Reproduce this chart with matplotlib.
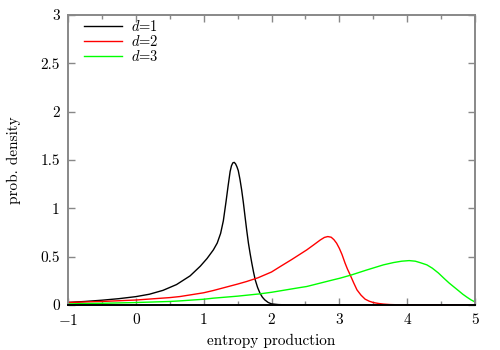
import matplotlib
matplotlib.use("Agg")
import matplotlib.pyplot as plt

plt.rcParams['font.family'] = ['cmr10', 'DejaVu Serif']
plt.rcParams['mathtext.fontset'] = 'cm'
plt.rcParams['axes.formatter.use_mathtext'] = True
plt.rcParams['font.size'] = 11

# d=1
x1 = [-1, -0.75, -0.5, -0.25, 0, 0.2, 0.4, 0.6, 0.8, 0.95, 1.05, 1.143, 1.20, 1.25,
      1.29, 1.33, 1.36, 1.39, 1.41, 1.43, 1.45, 1.47, 1.49, 1.51, 1.535, 1.56, 1.585,
      1.61, 1.635, 1.66, 1.685, 1.71, 1.735, 1.76, 1.795, 1.83, 1.865, 1.90, 1.95,
      2.0, 2.1, 2.2, 5.0]
y1 = [0.025, 0.035, 0.048, 0.064, 0.085, 0.11, 0.15, 0.21, 0.30, 0.40, 0.48, 0.569,
      0.64, 0.74, 0.87, 1.07, 1.23, 1.38, 1.44, 1.47, 1.475, 1.46, 1.43, 1.39, 1.30,
      1.19, 1.06, 0.913, 0.77, 0.638, 0.53, 0.431, 0.34, 0.259, 0.18, 0.121, 0.08,
      0.052, 0.025, 0.01, 0.003, 0.0, 0.0]
# d=2
x2 = [-1, -0.5, 0, 0.5, 0.65, 1.0, 1.14, 1.5, 1.63, 1.8, 2.0, 2.13, 2.3, 2.52, 2.62,
      2.72, 2.78, 2.83, 2.88, 2.92, 2.96, 3.0, 3.04, 3.085, 3.12, 3.16, 3.21, 3.26,
      3.32, 3.38, 3.44, 3.5, 3.58, 3.65, 3.75, 3.9, 5.0]
y2 = [0.025, 0.035, 0.05, 0.075, 0.086, 0.125, 0.148, 0.215, 0.241, 0.28, 0.34, 0.397,
      0.47, 0.569, 0.62, 0.672, 0.698, 0.707, 0.70, 0.675, 0.638, 0.585, 0.52, 0.431,
      0.37, 0.31, 0.23, 0.155, 0.10, 0.059, 0.038, 0.024, 0.014, 0.008, 0.003, 0.0, 0.0]
# d=3
x3 = [-1, -0.5, 0, 0.5, 0.65, 1.0, 1.14, 1.5, 1.83, 2.0, 2.42, 2.52, 2.91, 3.01, 3.18,
      3.4, 3.65, 3.8, 3.92, 4.03, 4.12, 4.2, 4.29, 4.37, 4.46, 4.55, 4.62, 4.69, 4.76,
      4.82, 4.88, 4.94, 5.0]
y3 = [0.01, 0.016, 0.024, 0.035, 0.041, 0.058, 0.069, 0.09, 0.114, 0.13, 0.179, 0.19,
      0.259, 0.276, 0.31, 0.36, 0.414, 0.438, 0.452, 0.458, 0.452, 0.435, 0.414, 0.38,
      0.33, 0.27, 0.225, 0.185, 0.145, 0.11, 0.08, 0.052, 0.03]

labels = ['$d$=1', '$d$=2', '$d$=3']
colors = ['#000000', '#ff0000', '#00ff00']

fig = plt.figure(figsize=(5, 3.5), dpi=100)
ax = fig.add_axes([0.136, 0.129, 0.814, 0.828])

for xs, ys, c, lab in zip([x1, x2, x3], [y1, y2, y3], colors, labels):
    ax.plot(xs, ys, color=c, lw=1.0, label=lab)

ax.set_xlim(-1, 5)
ax.set_ylim(0, 3)
ax.set_xticks([-1, 0, 1, 2, 3, 4, 5])
ax.set_xticks([-0.5, 0.5, 1.5, 2.5, 3.5, 4.5], minor=True)
ax.set_yticks([0, 0.5, 1, 1.5, 2, 2.5, 3])
ax.set_yticklabels(['0', '0.5', '1', '1.5', '2', '2.5', '3'])
ax.set_xticklabels(['$-1$', '0', '1', '2', '3', '4', '5'])

for s in ax.spines.values():
    s.set_color('#888888')
    s.set_linewidth(1.4)
ax.spines['bottom'].set_color('#000000')

ax.tick_params(which='both', direction='in', top=True, right=True, color='#888888')
ax.tick_params(which='major', length=5, width=1.0, pad=6)
ax.tick_params(which='minor', length=3, width=1.0)

ax.set_xlabel('entropy production', labelpad=4)
ax.set_ylabel('prob. density', labelpad=14)

ax.legend(loc='upper left', frameon=False, fontsize=10.5, handlelength=2.6,
          handletextpad=0.6, labelspacing=0.0, borderaxespad=0.0,
          borderpad=0.0, bbox_to_anchor=(0.039, 0.985))

fig.savefig('out.png', dpi=100)
